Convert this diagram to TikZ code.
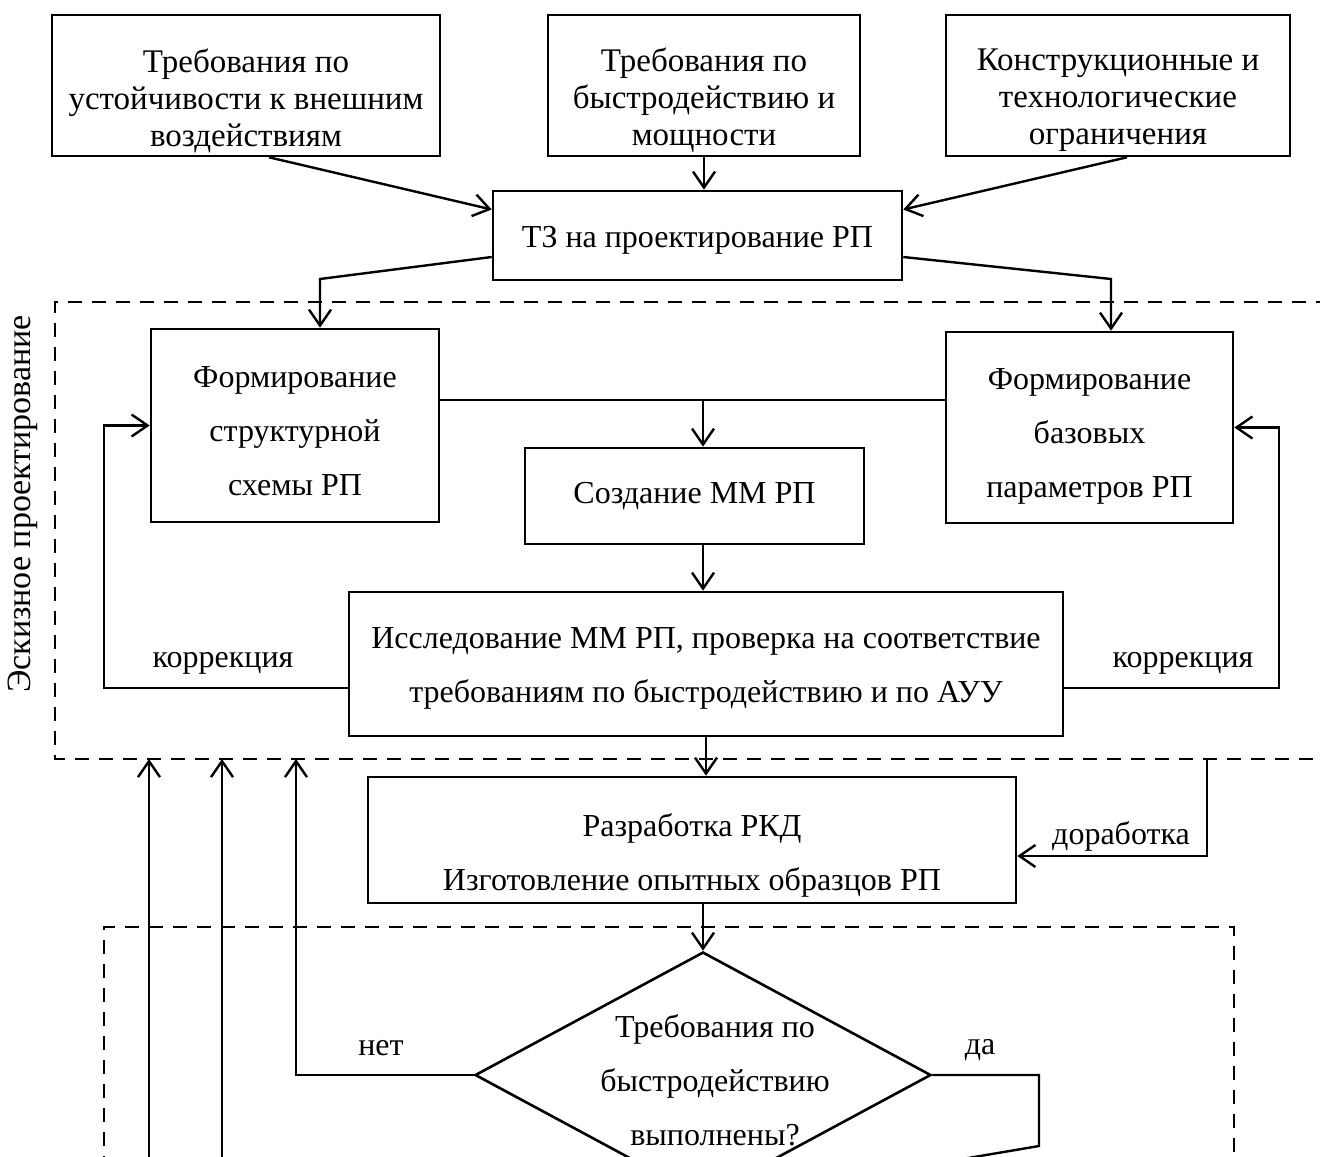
\documentclass[tikz,border=0pt]{standalone}
\usepackage{fontspec}
\setmainfont{Liberation Serif}
\usetikzlibrary{arrows.meta,shapes.geometric}

\begin{document}
\begin{tikzpicture}[x=0.5pt,y=-0.5pt,line width=1.2pt,
  >={Straight Barb[length=8pt,width=11pt]},
  font=\fontsize{16}{27}\selectfont,
  block/.style={draw,line width=1.3pt,inner sep=0pt},
  txt/.style={align=center,inner sep=0pt,font=\fontsize{16}{27}\selectfont},
  toptxt/.style={txt,font=\fontsize{16.5}{18.5}\selectfont},
  decision/.style={draw,diamond,line width=1.3pt,inner sep=0pt},
  frame/.style={dashed,dash pattern=on 7pt off 5pt,line width=1.1pt}]
\useasboundingbox (0,0) rectangle (1320,1156);

\node[block,minimum width=194pt,minimum height=70.5pt,label={[toptxt,yshift=-7.5pt]center:{Требования по\\устойчивости к внешним\\воздействиям}}] (ustoi) at (246,85.5) {};
\node[block,minimum width=156pt,minimum height=70.5pt,label={[toptxt,yshift=-7.5pt]center:{Требования по\\быстродействию и\\мощности}}] (bystr) at (704,85.5) {};
\node[block,minimum width=172pt,minimum height=70.5pt,label={[toptxt,yshift=-7.5pt]center:{Конструкционные и\\технологические\\ограничения}}] (konstr) at (1118,85.5) {};
\node[block,minimum width=204.5pt,minimum height=44.5pt,label={[txt,yshift=-2.5pt]center:{ТЗ на проектирование РП}}] (tz) at (697.5,235.5) {};
\node[block,minimum width=144pt,minimum height=96.5pt,label={[txt,yshift=-3pt]center:{Формирование\\структурной\\схемы РП}}] (struct) at (295,425.5) {};
\node[block,minimum width=143.5pt,minimum height=95.5pt,label={[txt,yshift=-4.5pt]center:{Формирование\\базовых\\параметров РП}}] (baza) at (1089.5,427.5) {};
\node[block,minimum width=169.5pt,minimum height=48pt,label={[txt]center:{Создание ММ РП}}] (mm) at (694.5,496) {};
\node[block,minimum width=357pt,minimum height=72pt,label={[txt,yshift=-2pt]center:{Исследование ММ РП, проверка на соответствие\\требованиям по быстродействию и по АУУ}}] (issl) at (706,664) {};
\node[block,minimum width=324pt,minimum height=63pt,label={[txt,yshift=-7.5pt]center:{Разработка РКД\\Изготовление опытных образцов РП}}] (rkd) at (692,840) {};
\node[decision,minimum width=228pt,minimum height=123pt] (check) at (703,1075) {};
\node[txt] (checktxt) at (715,1080) {Требования по\\быстродействию\\выполнены?};

\node[rotate=90,font=\fontsize{17}{20}\selectfont] (eskiz) at (23,504) {Эскизное проектирование};
\node (korltxt) at (223,663) {коррекция};
\node (korrtxt) at (1183,663) {коррекция};
\node (dortxt) at (1121,836) {доработка};
\node (nettxt) at (381,1048) {нет};
\node (datxt) at (980,1050) {да};

% dashed frames
\draw[frame] (1330,302) -- (55,302) -- (55,759) -- (1330,759);
\draw[frame] (104,1170) -- (104,927) -- (1234,927) -- (1234,1170);

\coordinate (tzl) at (320,279);
\coordinate (tzr) at (1111,279);
\coordinate (join) at (703,400);
\coordinate (korl) at (104,688);
\coordinate (korr) at (1279,688);
\coordinate (dor) at (1207,759);
\coordinate (dorb) at (1207,856);
\coordinate (net) at (296,759);
\coordinate (da) at (1039,1146);
\coordinate (daend) at (921,1166);
\coordinate (up1) at (149,759);
\coordinate (up1b) at (149,1170);
\coordinate (up2) at (222,759);
\coordinate (up2b) at (222,1170);

\draw[->] ([xshift=11.5pt]ustoi.south) -- ([yshift=13pt]tz.west);
\draw[->] (bystr.south) -- (bystr.south |- tz.north);
\draw[->] ([xshift=4.5pt]konstr.south) -- ([yshift=13pt]tz.east);
\draw[->] ([yshift=-10.75pt]tz.west) -- (tzl) -- (tzl |- struct.north);
\draw[->] ([yshift=-10.75pt]tz.east) -- (tzr) -- (tzr |- baza.north);

\draw (struct.east |- join) -- (baza.west |- join);
\draw[->] (join) -- (join |- mm.north);
\draw[->] (join |- mm.south) -- (join |- issl.north);
\draw[->] (issl.west |- korl) -- (korl) -- (korl |- struct.west) -- (struct.west);
\draw[->] (issl.east |- korr) -- (korr) -- (korr |- baza.east) -- (baza.east);
\draw[->] (issl.south) -- (issl.south |- rkd.north);
\draw[->] (dor) -- (dorb) -- (rkd.east |- dorb);
\draw[->] (rkd.south -| check.north) -- (check.north);

\draw[->] (check.west) -- (check.west -| net) -- (net);
\draw (check.east) -- (check.east -| da) -- (da) -- (daend);
\draw[->] (up1b) -- (up1);
\draw[->] (up2b) -- (up2);

\end{tikzpicture}
\end{document}
